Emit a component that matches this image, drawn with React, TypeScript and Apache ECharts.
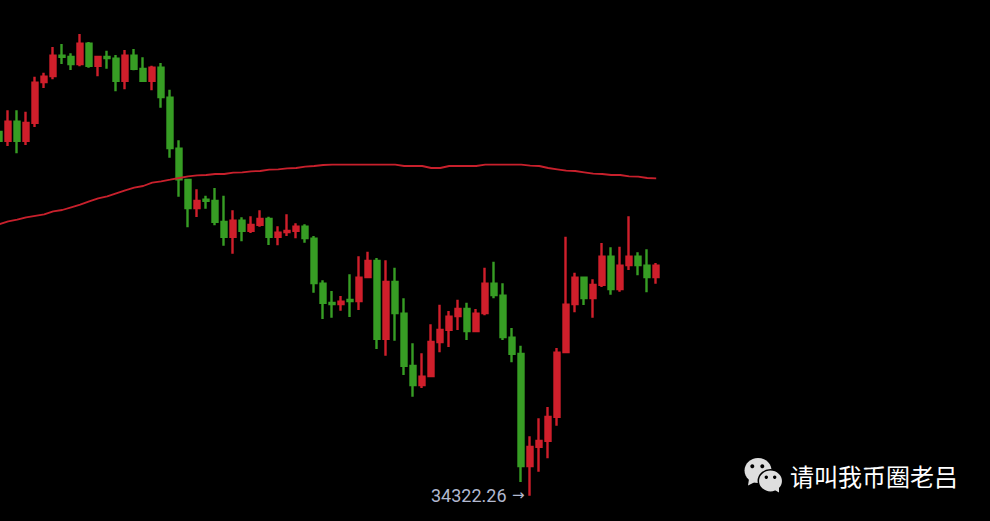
import React, { useEffect, useRef } from "react";
import * as echarts from "echarts";

const opens = [37959,37872,38062,37872,38052,38459,38519,38722,38709,38639,38842,38622,38709,38692,38472,38722,38589,38472,38602,38302,37792,37479,37199,37282,37269,37059,36912,37072,36972,37032,37089,36912,36959,36972,37012,36892,36442,36249,36239,36279,36269,36509,36669,35892,36459,36142,35619,35429,35519,35859,35982,36119,36189,35969,36149,36442,36322,35902,35739,34619,34812,34872,35112,35759,36239,36502,36299,36432,36712,36389,36629,36712,36622,36509];
const closes = [37872,38062,37872,38049,38452,38512,38722,38712,38639,38842,38622,38709,38699,38472,38722,38592,38472,38602,38309,37799,37486,37199,37269,37272,37062,36912,37072,36972,37029,37089,36912,36952,36969,37012,36899,36449,36252,36239,36262,36269,36502,36669,35892,36459,36149,35622,35429,35512,35859,35979,36112,36189,35969,36142,36442,36329,35909,35742,34619,34809,34869,35109,35752,36232,36502,36299,36429,36712,36389,36622,36712,36629,36509,36622];
const lows = [37839,37819,37746,37829,38009,38399,38486,38639,38579,38616,38602,38516,38592,38366,38386,38576,38462,38376,38202,37702,37312,37006,37109,37192,37026,36822,36742,36866,36949,37012,36829,36826,36919,36896,36852,36352,36089,36102,36172,36109,36179,36499,35789,35722,35872,35529,35312,35399,35509,35756,35809,35979,35879,35959,36126,36296,35879,35656,34459,34322,34562,34696,35022,35749,36156,36229,36102,36409,36332,36362,36579,36526,36356,36442];
const highs = [37999,38176,38176,38162,38512,38552,38809,38839,38746,38939,38859,38719,38772,38729,38779,38789,38706,38622,38649,38382,37876,37489,37386,37322,37399,37322,37176,37106,37116,37176,37112,37016,37136,37046,37036,36919,36476,36369,36319,36536,36716,36762,36699,36676,36602,36296,35846,35746,36036,36232,36169,36282,36252,36189,36602,36662,36446,35999,35822,34916,35096,35209,35799,36912,36552,36512,36486,36849,36806,36812,37116,36756,36786,36649];
const maLine = [37036,37066,37082,37106,37121,37136,37166,37179,37206,37232,37266,37296,37316,37346,37376,37402,37419,37452,37466,37482,37499,37516,37526,37529,37539,37539,37552,37556,37566,37569,37582,37586,37596,37599,37612,37619,37629,37632,37632,37632,37632,37632,37632,37632,37632,37619,37619,37619,37599,37599,37619,37619,37619,37619,37632,37632,37632,37632,37632,37622,37619,37599,37586,37572,37569,37556,37542,37539,37529,37529,37516,37512,37499,37496];
const categories = opens.map((_, i) => String(i));

const lowLabel = "34322.26";
const lowArrow = "→";
const watermark = "请叫我币圈老吕";

const RED = "#cf1f2b";
const GREEN = "#379d24";
const BUBBLE = "#dedede";
const LABEL = "#b2b9d0";

export default function App() {
  const ref = useRef<HTMLDivElement>(null);
  useEffect(() => {
    document.body.style.margin = "0";
    document.body.style.background = "#000";
    const chart = echarts.init(ref.current!, undefined, { renderer: "svg" });
    const dot = (x: number, y: number, r: number) => ({
      type: "circle", shape: { cx: x, cy: y, r }, style: { fill: "#000" }, z: 20,
    });
    chart.setOption({
      animation: false,
      backgroundColor: "#000000",
      grid: { left: -5.3, top: 0, width: 666, height: 521, outerBoundsMode: "none" },
      xAxis: { type: "category", data: categories, show: false, boundaryGap: true },
      yAxis: { type: "value", min: 34069, max: 39279, show: false, splitLine: { show: false } },
      series: [
        {
          type: "candlestick",
          data: opens.map((o, i) => [o, closes[i], lows[i], highs[i]]),
          barWidth: 6,
          itemStyle: { color: RED, color0: GREEN, borderColor: RED, borderColor0: GREEN, borderWidth: 2.4 },
          z: 2,
        },
        {
          type: "line",
          data: maLine,
          showSymbol: false,
          symbol: "none",
          lineStyle: { color: "#c8202c", width: 1.8 },
          z: 3,
        },
      ],
      graphic: [
        {
          type: "text", x: 431, y: 495,
          style: { text: lowLabel, font: '18px Roboto, sans-serif', fill: LABEL, verticalAlign: "middle" },
          z: 20,
        },
        {
          type: "text", x: 512, y: 495,
          style: { text: lowArrow, font: '15px "DejaVu Sans", sans-serif', fill: LABEL, verticalAlign: "middle" },
          z: 20,
        },
        { type: "ellipse", shape: { cx: 758, cy: 470.5, rx: 13.5, ry: 12.5 }, style: { fill: BUBBLE }, z: 10 },
        { type: "polygon", shape: { points: [[749, 479], [755, 482], [748, 485.5]] }, style: { fill: BUBBLE }, z: 10 },
        dot(752.3, 466.3, 2),
        dot(762.3, 466.3, 2),
        { type: "ellipse", shape: { cx: 770.5, cy: 481, rx: 12.2, ry: 11.2 }, style: { fill: BUBBLE, stroke: "#000", lineWidth: 1.5 }, z: 11 },
        { type: "polygon", shape: { points: [[773, 489], [779, 486], [779, 492.5]] }, style: { fill: BUBBLE }, z: 11 },
        dot(766.3, 477.3, 1.7),
        dot(774.7, 477.3, 1.7),
        {
          type: "text", x: 790, y: 475.5,
          style: { text: watermark, font: '24px "Noto Sans CJK SC", sans-serif', fill: "#ffffff", verticalAlign: "middle" },
          z: 20,
        },
      ],
    });
    return () => chart.dispose();
  }, []);
  return <div ref={ref} style={{ position: "fixed", left: 0, top: 0, width: 990, height: 521 }} />;
}
